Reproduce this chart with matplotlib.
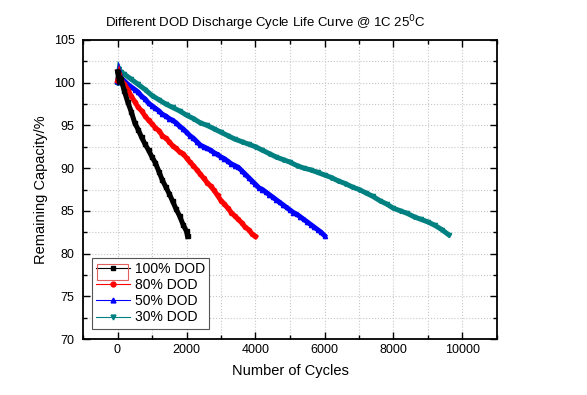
import numpy as np
import matplotlib
matplotlib.use('Agg')
import matplotlib.pyplot as plt
from matplotlib.lines import Line2D
from matplotlib.patches import Rectangle
from matplotlib.ticker import MultipleLocator

plt.rcParams['font.family'] = ['Liberation Sans', 'DejaVu Sans']

# cycles / remaining capacity (%)
cyc_100 = [0, 50, 100, 200, 300, 400, 500, 600, 700, 800, 900, 1000, 1100, 1200,
           1300, 1400, 1500, 1600, 1700, 1800, 1900, 2000, 2030]
cap_100 = [101.3, 100.2, 100.4, 99.0, 97.7, 96.6, 95.3, 94.5, 93.6, 92.8, 92.1, 91.3,
           90.6, 89.6, 88.6, 87.8, 87.0, 86.1, 85.2, 84.4, 83.4, 82.6, 82.0]

cyc_80 = [0, 50, 100, 200, 300, 400, 500, 600, 700, 800, 900, 1000, 1100, 1200,
          1300, 1400, 1500, 1600, 1700, 1800, 1900, 2000, 2100, 2200, 2300,
          2400, 2500, 2600, 2700, 2800, 2900, 3000, 3100, 3200, 3300, 3400,
          3500, 3600, 3700, 3800, 3900, 4000]
cap_80 = [100.2, 101.0, 100.3, 99.8, 99.2, 98.4, 97.8, 97.1, 96.7, 96.1, 95.6, 95.2,
          94.7, 94.4, 93.8, 93.5, 93.1, 92.6, 92.3, 91.9, 91.7, 91.2, 90.7,
          90.3, 89.8, 89.3, 88.8, 88.3, 87.9, 87.4, 86.8, 86.2, 85.8, 85.3,
          84.8, 84.4, 84.0, 83.6, 83.1, 82.8, 82.3, 82.0]

cyc_50 = [0, 50, 100, 200, 300, 400, 500, 600, 700, 800, 900, 1000, 1100, 1200,
          1300, 1400, 1500, 1600, 1700, 1800, 1900, 2000, 2100, 2200, 2300,
          2400, 2500, 2600, 2700, 2800, 2900, 3000, 3100, 3200, 3300, 3400,
          3500, 3600, 3700, 3800, 3900, 4000, 4100, 4200, 4300, 4400, 4500,
          4600, 4700, 4800, 4900, 5000, 5100, 5200, 5300, 5400, 5500, 5600,
          5700, 5800, 5900, 6000]
cap_50 = [100.1, 101.2, 100.5, 100.2, 99.8, 99.5, 99.2, 98.9, 98.4, 98.1, 97.6, 97.3,
          97.0, 96.7, 96.3, 96.1, 95.8, 95.6, 95.3, 94.9, 94.6, 94.2, 93.8,
          93.5, 93.1, 92.7, 92.5, 92.3, 92.1, 91.8, 91.6, 91.3, 91.1, 90.8,
          90.5, 90.3, 90.1, 89.7, 89.3, 88.9, 88.5, 88.1, 87.7, 87.5, 87.2,
          86.9, 86.6, 86.3, 86.0, 85.7, 85.4, 85.1, 84.8, 84.6, 84.3, 84.0,
          83.7, 83.4, 83.1, 82.8, 82.5, 82.1]

cyc_30 = [0, 50, 100, 200, 400, 600, 800, 1000, 1200, 1400, 1600, 1800, 2000, 2200,
          2400, 2600, 2800, 3000, 3200, 3400, 3600, 3800, 4000, 4200, 4400,
          4600, 4800, 5000, 5200, 5400, 5600, 5800, 6000, 6200, 6400, 6600,
          6800, 7000, 7200, 7400, 7600, 7800, 8000, 8200, 8400, 8600, 8800,
          9000, 9200, 9400, 9600]
cap_30 = [100.0, 101.6, 101.2, 101.0, 100.4, 99.8, 99.2, 98.5, 98.0, 97.5, 97.1,
          96.7, 96.2, 95.8, 95.3, 95.0, 94.6, 94.2, 93.8, 93.4, 93.1, 92.8,
          92.5, 92.1, 91.7, 91.3, 91.0, 90.7, 90.3, 90.0, 89.8, 89.5, 89.2,
          88.9, 88.5, 88.2, 87.8, 87.5, 87.1, 86.7, 86.2, 85.8, 85.3, 85.0,
          84.7, 84.3, 84.0, 83.7, 83.3, 82.8, 82.2]

labels = ['100% DOD', '80% DOD', '50% DOD', '30% DOD']
colors = ['black', 'red', 'blue', '#008080']
markers = ['s', 'o', '^', 'v']

fig = plt.figure(figsize=(5.87, 3.95), dpi=100)
ax = fig.add_axes([83/587, 1-339/395, 414/587, 299/395])

series = [(cyc_100, cap_100), (cyc_80, cap_80), (cyc_50, cap_50), (cyc_30, cap_30)]
for (x, y), c, m in zip(series[::-1], colors[::-1], markers[::-1]):
    ax.plot(x, y, color=c, lw=3.6, marker=m, ms=3, mec=c, zorder=3,
            solid_joinstyle='miter')

ax.set_xlim(-1000, 11000)
ax.set_ylim(70, 105)
ax.xaxis.set_major_locator(MultipleLocator(2000))
ax.xaxis.set_minor_locator(MultipleLocator(1000))
ax.yaxis.set_major_locator(MultipleLocator(5))
ax.yaxis.set_minor_locator(MultipleLocator(2.5))
ax.grid(True, which='both', color='#c8c8c8', ls=':', lw=0.8)
ax.set_axisbelow(True)
ax.tick_params(which='both', direction='in', top=True, right=True, labelsize=9)
ax.tick_params(which='major', length=5, width=1)
ax.tick_params(which='minor', length=3, width=1)
ax.tick_params(axis='y', pad=6)
for s in ax.spines.values():
    s.set_linewidth(1.3)

ax.set_xlabel('Number of Cycles', fontsize=10.5, labelpad=6)
ax.set_ylabel('Remaining Capacity/%', fontsize=10.5, labelpad=4)
ax.set_title('Different DOD Discharge Cycle Life Curve @ 1C 25$^{0}$C',
             fontsize=9.5, pad=9, x=0.44)

handles = [Line2D([], [], color=c, marker=m, lw=0.8, ms=3.5) for c, m in zip(colors, markers)]
leg = ax.legend(handles, labels, loc='lower left', bbox_to_anchor=(0.022, 0.035),
                borderaxespad=0, fontsize=10, fancybox=False, framealpha=1,
                edgecolor='#555555', handlelength=2.4, labelspacing=0.15,
                handletextpad=0.4, borderpad=0.3)
leg.get_frame().set_linewidth(0.8)

fig.patches.append(Rectangle((96.5/587, 1-280/395), 31.5/587, 16/395,
                             transform=fig.transFigure, fill=False,
                             ec='#e06060', lw=0.8, zorder=10))

fig.savefig('out.png', dpi=100)
